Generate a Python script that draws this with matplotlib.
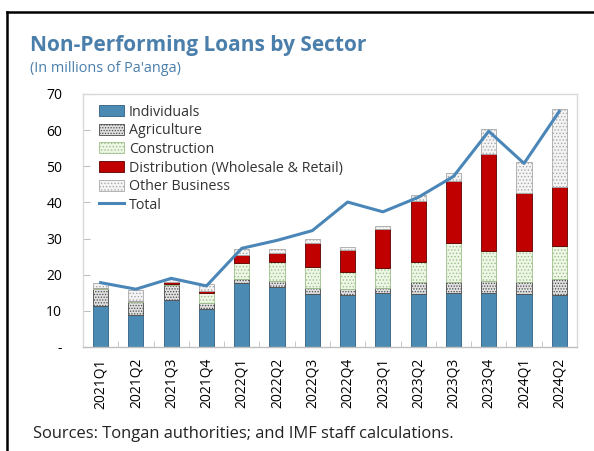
import numpy as np
import matplotlib.pyplot as plt
from matplotlib.lines import Line2D

plt.rcParams['font.family'] = ['Open Sans', 'DejaVu Sans']
plt.rcParams['hatch.linewidth'] = 0.6

# data (millions of Pa'anga)
quarters = ['2021Q1', '2021Q2', '2021Q3', '2021Q4',
            '2022Q1', '2022Q2', '2022Q3', '2022Q4',
            '2023Q1', '2023Q2', '2023Q3', '2023Q4',
            '2024Q1', '2024Q2']
individuals = [11.3, 8.9, 13.0, 10.4, 17.6, 16.5, 14.6, 14.4, 14.9, 14.6, 14.9, 14.9, 14.6, 14.3]
agriculture = [4.8, 3.6, 4.2, 1.7, 1.3, 1.7, 1.6, 1.6, 1.3, 3.3, 3.2, 3.4, 3.3, 4.4]
construction = [0.2, 0.2, 0.1, 2.9, 4.3, 5.2, 6.0, 4.8, 5.7, 5.7, 10.8, 8.3, 8.7, 9.2]
distribution = [0.0, 0.0, 0.7, 0.6, 2.3, 2.5, 6.5, 6.0, 10.7, 16.8, 17.0, 26.7, 16.1, 16.3]
other_business = [1.4, 3.2, 0.7, 1.7, 1.7, 1.2, 1.3, 1.0, 1.0, 1.6, 2.2, 6.9, 8.5, 21.7]
total = [17.8, 16.0, 19.0, 16.9, 27.3, 29.5, 32.2, 40.1, 37.4, 41.4, 47.2, 59.7, 50.8, 65.2]

# series styles: (label, values, face, edge, hatch)
series = [
    ('Individuals', individuals, '#4A8AB3', '#2F5F80', None),
    ('Agriculture', agriculture, '#E0E0E0', '#4A4A4A', '......'),
    ('Construction', construction, '#EEF6E6', '#9DBF8A', '.....'),
    ('Distribution (Wholesale & Retail)', distribution, '#C00000', '#5A0000', None),
    ('Other Business', other_business, '#F4F4F4', '#A8A8A8', '.....'),
]

fig = plt.figure(figsize=(5.94, 4.51), dpi=100)
ax = fig.add_axes([0.1397, 0.2306, 0.8316, 0.561])

x = np.arange(len(quarters))
bottom = np.zeros(len(quarters))
for label, vals, face, edge, hatch in series:
    vals = np.array(vals)
    ax.bar(x, vals, width=0.43, bottom=bottom, color=face, edgecolor=edge,
           hatch=hatch, linewidth=0.6, label=label, zorder=2)
    bottom += vals

ax.plot(x, total, color='#4A86B8', linewidth=2.2, label='Total', zorder=3)

# axes styling
ax.set_xlim(-0.5, len(quarters) - 0.5)
ax.set_ylim(0, 70)
ax.set_yticks(np.arange(0, 71, 10))
ax.set_yticklabels(['-'] + [str(v) for v in range(10, 71, 10)])
ax.set_xticks(x)
ax.set_xticklabels(quarters, rotation=90)
ax.set_xticks(np.arange(-0.5, len(quarters), 1), minor=True)
ax.tick_params(axis='x', which='major', length=0, pad=8, labelsize=10)
ax.tick_params(axis='x', which='minor', direction='in', length=4, color='#BFBFBF')
ax.tick_params(axis='y', direction='in', length=5, color='#BFBFBF', pad=15, labelsize=10)
for s in ax.spines.values():
    s.set_color('#D9D9D9')
    s.set_linewidth(1.0)
ax.spines['bottom'].set_color('#BFBFBF')

# legend: bars first, total line last
handles, labels = ax.get_legend_handles_labels()
order = [1, 2, 3, 4, 5, 0]
leg = ax.legend([handles[i] for i in order], [labels[i] for i in order],
                loc='upper left', bbox_to_anchor=(0.02, 0.98), frameon=False, fontsize=10.3,
                handlelength=1.8, handleheight=0.8, handletextpad=0.3, labelspacing=0.25,
                borderaxespad=0.0)
for t in leg.get_texts():
    t.set_color('#333333')

# titles and note
fig.text(30 / 594, 1 - 45 / 451, 'Non-Performing Loans by Sector', fontsize=15,
         fontweight='bold', color='#4A7EAB', va='center', ha='left')
fig.text(30 / 594, 1 - 68 / 451, "(In millions of Pa'anga)", fontsize=10.4,
         color='#4A7EAB', va='center', ha='left')
fig.text(33 / 594, 1 - 434 / 451, 'Sources: Tongan authorities; and IMF staff calculations.',
         fontsize=11.9, color='#222222', va='center', ha='left')

# black frame lines (top and left)
fig.add_artist(Line2D([7 / 594, 1], [1 - 12 / 451, 1 - 12 / 451], color='black', linewidth=1.8))
fig.add_artist(Line2D([7 / 594, 7 / 594], [0, 1 - 12 / 451], color='black', linewidth=1.8))

fig.savefig('out.png', dpi=100)
